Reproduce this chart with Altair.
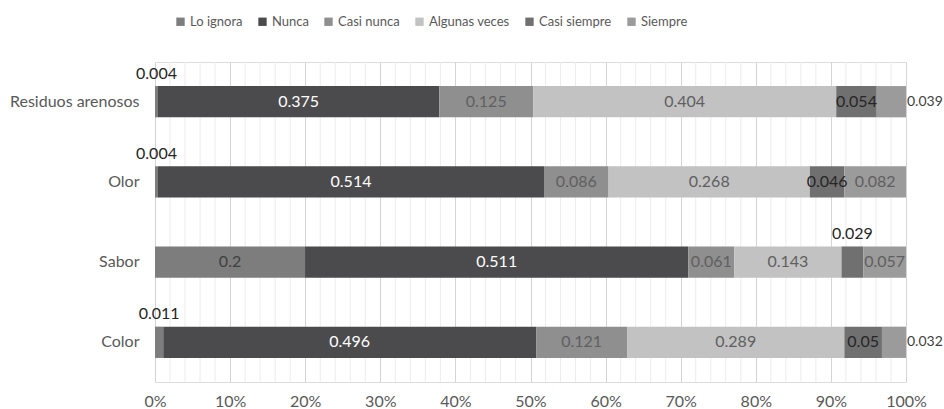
import altair as alt
import pandas as pd

categories = ["Residuos arenosos", "Olor", "Sabor", "Color"]
series = ["Lo ignora", "Nunca", "Casi nunca", "Algunas veces", "Casi siempre", "Siempre"]
values = {
    "Residuos arenosos": [0.004, 0.375, 0.125, 0.404, 0.054, 0.039],
    "Olor": [0.004, 0.514, 0.086, 0.268, 0.046, 0.082],
    "Sabor": [0.2, 0.511, 0.061, 0.143, 0.029, 0.057],
    "Color": [0.011, 0.496, 0.121, 0.289, 0.05, 0.032],
}
minor_ticks = [i / 50 for i in range(1, 50) if i % 5 != 0]

colors = ["#7d7d7d", "#4b4b4d", "#8f8f8f", "#c2c2c2", "#707070", "#9b9b9b"]
text_colors = ["#404040", "#ffffff", "#5f5f5f", "#5f5f5f", "#262626", "#5f5f5f"]

rows = []
for c in categories:
    total = sum(values[c])
    acc = 0.0
    for i, (s, v) in enumerate(zip(series, values[c])):
        start = acc / total
        acc += v
        end = acc / total
        if s == "Siempre" and v < 0.045:
            pos = "right"
        elif v < 0.035:
            pos = "above"
        else:
            pos = "inside"
        rows.append(dict(cat=c, serie=s, order=i, value=v, start=start, end=end,
                         mid=(start + end) / 2, label=f"{v:g}", pos=pos,
                         tcolor=text_colors[i] if pos == "inside" else "#404040"))
df = pd.DataFrame(rows)
minor_df = pd.DataFrame({"t": minor_ticks})

FONT = "Lato"
FS = 16
xscale = alt.Scale(domain=[0, 1], nice=False)
yscale = alt.Scale(domain=categories, paddingInner=0.61, paddingOuter=0.3)

minor = alt.Chart(minor_df).mark_rule(color="#ececec", strokeWidth=1).encode(
    x=alt.X("t:Q", scale=xscale)
)

bars = alt.Chart(df).mark_bar().encode(
    x=alt.X("start:Q", scale=xscale,
            axis=alt.Axis(format="%", values=[i / 10 for i in range(11)], title=None,
                          grid=True, gridColor="#d4d4d4", ticks=False, domain=False,
                          labelFont=FONT, labelFontSize=FS, labelColor="#595959",
                          labelPadding=11, labelFlush=False)),
    x2="end:Q",
    y=alt.Y("cat:N", scale=yscale, sort=categories,
            axis=alt.Axis(title=None, ticks=False, domain=False, labelFont=FONT,
                          labelFontSize=FS, labelColor="#595959", labelPadding=16)),
    color=alt.Color("serie:N", scale=alt.Scale(domain=series, range=colors),
                    legend=alt.Legend(title=None, orient="none", direction="horizontal",
                                      legendX=19, legendY=-47, symbolType="square",
                                      symbolSize=70, symbolStrokeWidth=0,
                                      labelFont=FONT, labelFontSize=13,
                                      labelColor="#595959", columnPadding=13,
                                      labelOffset=3)),
    order=alt.Order("order:Q"),
)

base_text = alt.Chart(df)
inside = base_text.transform_filter("datum.pos == 'inside'").mark_text(
    font=FONT, fontSize=FS, align="center", baseline="middle"
).encode(
    x=alt.X("mid:Q", scale=xscale), y=alt.Y("cat:N", scale=yscale, sort=categories),
    text="label:N", color=alt.Color("tcolor:N", scale=None),
)
above = base_text.transform_filter("datum.pos == 'above'").mark_text(
    font=FONT, fontSize=FS, align="center", baseline="bottom", dy=-20, color="#262626"
).encode(
    x=alt.X("mid:Q", scale=xscale), y=alt.Y("cat:N", scale=yscale, sort=categories),
    text="label:N",
)
right = base_text.transform_filter("datum.pos == 'right'").mark_text(
    font=FONT, fontSize=14, align="left", baseline="middle", dx=1, color="#404040"
).encode(
    x=alt.X("end:Q", scale=xscale), y=alt.Y("cat:N", scale=yscale, sort=categories),
    text="label:N",
)

chart = alt.layer(minor, bars, inside, above, right).properties(
    width=751, height=320,
    autosize=alt.AutoSizeParams(type="none"),
    padding={"left": 155, "top": 62, "right": 38, "bottom": 27},
).configure_view(stroke=None).configure(background="white")

chart.save("out.html", embed_options={"renderer": "svg", "actions": False})
